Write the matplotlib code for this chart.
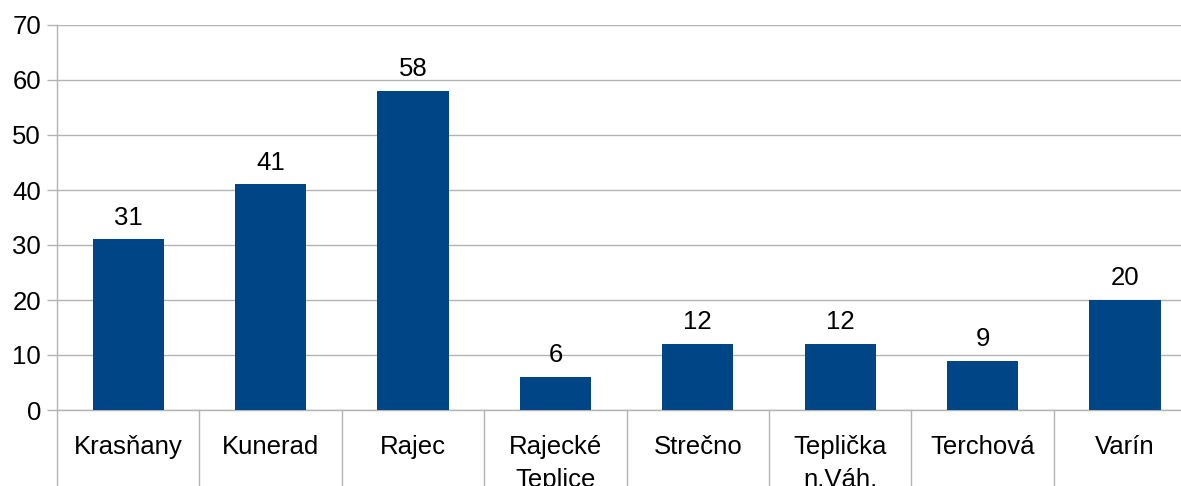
import matplotlib
matplotlib.use("Agg")
import matplotlib.pyplot as plt

plt.rcParams["font.family"] = ["Liberation Sans", "DejaVu Sans"]

# Values.
CATEGORIES = ["Krasňany", "Kunerad", "Rajec", "Rajecké\nTeplice", "Strečno",
              "Teplička\nn.Váh.", "Terchová", "Varín"]
VALUES = [31, 41, 58, 6, 12, 12, 9, 20]
Y_TICKS = [0, 10, 20, 30, 40, 50, 60, 70]

BAR_COLOR = "#004586"
GRID_COLOR = "#b3b3b3"
FS = 18.5

W, H = 1181, 486
fig = plt.figure(figsize=(W / 100, H / 100), dpi=100)
# Plot area runs past the right edge of the picture, like the original.
left, bottom, top = 57, 76, 25
cat_w = 142.4
ax = fig.add_axes([left / W, bottom / H, len(CATEGORIES) * cat_w / W,
                   (H - bottom - top) / H])

x = list(range(len(CATEGORIES)))
ax.bar(x, VALUES, width=0.5, color=BAR_COLOR, zorder=3)
for xi, v in zip(x, VALUES):
    ax.annotate(str(v), xy=(xi, v), xytext=(0, 7), textcoords="offset points",
                ha="center", va="bottom", fontsize=FS, color="black")

ax.set_xlim(-0.5, len(CATEGORIES) - 0.5)
ax.set_ylim(0, 70)
ax.set_yticks(Y_TICKS)
ax.yaxis.grid(True, color=GRID_COLOR, linewidth=1, zorder=0)
ax.tick_params(axis="y", length=7.5, color=GRID_COLOR, width=1, pad=4,
               labelsize=FS)

# Category labels and separators below the axis.
ax.set_xticks(x)
ax.set_xticklabels(CATEGORIES, fontsize=FS, linespacing=1.45)
ax.tick_params(axis="x", length=0, pad=18)
for i in range(len(CATEGORIES) + 1):
    ax.plot([i - 0.5, i - 0.5], [0, -0.25], transform=ax.get_xaxis_transform(),
            color=GRID_COLOR, linewidth=1, clip_on=False)

for side in ["top", "right"]:
    ax.spines[side].set_visible(False)
for side in ["left", "bottom"]:
    ax.spines[side].set_color(GRID_COLOR)
    ax.spines[side].set_linewidth(1)

fig.savefig("out.png", dpi=100)
